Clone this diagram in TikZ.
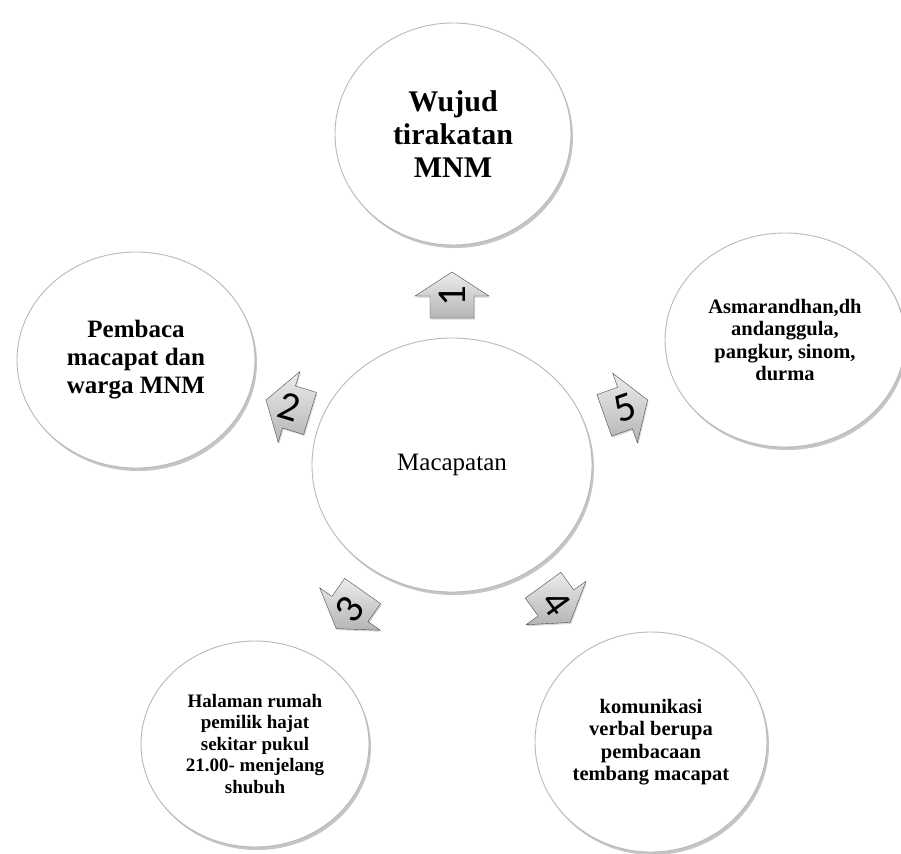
\documentclass[tikz,border=0pt]{standalone}
\usepackage{fontspec}
\setmainfont{Liberation Serif}
\newfontfamily\digitfont{Carlito}
\usetikzlibrary{shapes.geometric}
\usetikzlibrary{shadows}

\begin{document}
\begin{tikzpicture}[x=1pt, y=-1pt,
  bubble/.style={ellipse, draw=gray!55, line width=0.9pt, fill=white,
    align=center, inner sep=0pt, drop shadow={opacity=0.45, shadow xshift=2pt, shadow yshift=-3pt}},
  numarrow/.style={draw=gray!60!black, line width=0.4pt, top color=gray!15, bottom color=gray!58,
    drop shadow={opacity=0.3, shadow xshift=1pt, shadow yshift=-1.5pt}},
  digit/.style={font=\digitfont\fontsize{41}{41}\selectfont, inner sep=0pt}]

\fill[white] (0,0) rectangle (901,853);
\useasboundingbox (0,0) rectangle (901,853);

% circles
\node[bubble, minimum width=280pt, minimum height=254pt, font=\fontsize{25}{28}\selectfont] (macapat) at (452,465) {Macapatan};

\node[bubble, minimum width=236pt, minimum height=222pt, font=\fontsize{30}{33}\selectfont\bfseries] (wujud) at (453,134) {Wujud\\tirakatan\\MNM};
\node[bubble, minimum width=238pt, minimum height=216pt, font=\fontsize{25}{28}\selectfont\bfseries] (pembaca) at (136,360) {Pembaca\\macapat dan\\warga MNM};
\node[bubble, minimum width=228pt, minimum height=206pt, font=\fontsize{19}{21.5}\selectfont\bfseries] (halaman) at (255,744) {Halaman rumah\\pemilik hajat\\sekitar pukul\\21.00- menjelang\\shubuh};
\node[bubble, minimum width=232pt, minimum height=220pt, font=\fontsize{20.5}{22.5}\selectfont\bfseries] (komunikasi) at (651,742) {komunikasi\\verbal berupa\\pembacaan\\tembang macapat};
\node[bubble, minimum width=240pt, minimum height=214pt, font=\fontsize{20.5}{22.5}\selectfont\bfseries] (asmara) at (785,340) {Asmarandhan,dh\\andanggula,\\pangkur, sinom,\\durma};

% arrows
\coordinate (p1) at (452,296);
\coordinate (p2) at (289,407);
\coordinate (p3) at (350,609);
\coordinate (p4) at (556,603);
\coordinate (p5) at (625,408);

\begin{scope}[shift={(p1)}, rotate=90]
\draw[numarrow] (-22,-22) -- (0,-22) -- (0,-37) -- (24,0) -- (0,37) -- (0,22) -- (-22,22) -- cycle;
\end{scope}
\begin{scope}[shift={(p2)}, rotate=163]
\draw[numarrow] (-22,-22) -- (0,-22) -- (0,-37) -- (24,0) -- (0,37) -- (0,22) -- (-22,22) -- cycle;
\end{scope}
\begin{scope}[shift={(p3)}, rotate=235]
\draw[numarrow] (-22,-22) -- (0,-22) -- (0,-37) -- (24,0) -- (0,37) -- (0,22) -- (-22,22) -- cycle;
\end{scope}
\begin{scope}[shift={(p4)}, rotate=-54]
\draw[numarrow] (-22,-22) -- (0,-22) -- (0,-37) -- (24,0) -- (0,37) -- (0,22) -- (-22,22) -- cycle;
\end{scope}
\begin{scope}[shift={(p5)}, rotate=19.5]
\draw[numarrow] (-22,-22) -- (0,-22) -- (0,-37) -- (24,0) -- (0,37) -- (0,22) -- (-22,22) -- cycle;
\end{scope}

\node[digit, rotate=90] (n1) at (p1) {1};
\node[digit, rotate=-17] (n2) at (p2) {2};
\node[digit, rotate=55] (n3) at (p3) {3};
\node[digit, rotate=-54] (n4) at (p4) {4};
\node[digit, rotate=19.5] (n5) at (p5) {5};

\end{tikzpicture}
\end{document}
